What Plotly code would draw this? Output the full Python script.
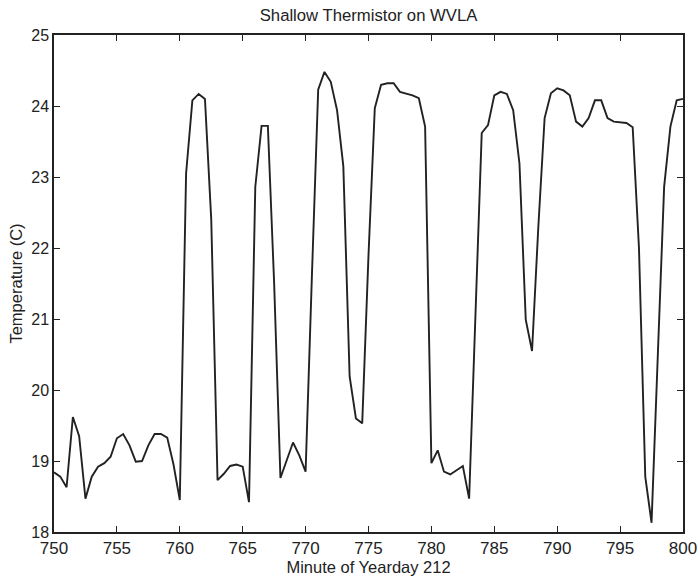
import plotly.graph_objects as go

minutes = [750.0, 750.5, 751.0, 751.5, 752.0, 752.5, 753.0, 753.5, 754.0, 754.5,
           755.0, 755.5, 756.0, 756.5, 757.0, 757.5, 758.0, 758.5, 759.0, 759.5,
           760.0, 760.5, 761.0, 761.5, 762.0, 762.5, 763.0, 763.5, 764.0, 764.5,
           765.0, 765.5, 766.0, 766.5, 767.0, 767.5, 768.0, 768.5, 769.0, 769.5,
           770.0, 770.5, 771.0, 771.5, 772.0, 772.5, 773.0, 773.5, 774.0, 774.5,
           775.0, 775.5, 776.0, 776.5, 777.0, 777.5, 778.0, 778.5, 779.0, 779.5,
           780.0, 780.5, 781.0, 781.5, 782.0, 782.5, 783.0, 783.5, 784.0, 784.5,
           785.0, 785.5, 786.0, 786.5, 787.0, 787.5, 788.0, 788.5, 789.0, 789.5,
           790.0, 790.5, 791.0, 791.5, 792.0, 792.5, 793.0, 793.5, 794.0, 794.5,
           795.0, 795.5, 796.0, 796.5, 797.0, 797.5, 798.0, 798.5, 799.0, 799.5,
           800.0]

temperature = [18.84, 18.78, 18.63, 19.62, 19.35, 18.47, 18.78, 18.92, 18.97, 19.06,
               19.32, 19.38, 19.22, 18.99, 19.00, 19.22, 19.38, 19.38, 19.33, 18.95,
               18.45, 23.05, 24.08, 24.17, 24.10, 22.40, 18.73, 18.82, 18.93, 18.95,
               18.92, 18.42, 22.86, 23.72, 23.72, 21.50, 18.76, 19.01, 19.26, 19.08,
               18.85, 21.60, 24.23, 24.48, 24.34, 23.94, 23.15, 20.19, 19.60, 19.53,
               21.90, 23.97, 24.30, 24.32, 24.32, 24.20, 24.18, 24.15, 24.11, 23.71,
               18.97, 19.15, 18.85, 18.81, 18.87, 18.93, 18.47, 21.10, 23.62, 23.73,
               24.15, 24.20, 24.17, 23.94, 23.19, 20.99, 20.55, 22.30, 23.83, 24.18,
               24.25, 24.22, 24.15, 23.78, 23.71, 23.83, 24.08, 24.08, 23.83, 23.78,
               23.77, 23.76, 23.70, 22.00, 18.78, 18.13, 20.50, 22.86, 23.71, 24.08,
               24.10]

x_ticks = [750, 755, 760, 765, 770, 775, 780, 785, 790, 795, 800]
y_ticks = [18, 19, 20, 21, 22, 23, 24, 25]

FONT = "Liberation Sans, Arial, Helvetica, sans-serif"
INK = "#222222"

fig = go.Figure()
fig.add_trace(go.Scatter(
    x=minutes, y=temperature, mode="lines",
    line=dict(color=INK, width=1.9),
    showlegend=False, hoverinfo="skip",
))

axis_common = dict(
    showline=True, linecolor=INK, linewidth=1.5, mirror="ticks",
    ticks="inside", ticklen=6, tickwidth=1.2, tickcolor=INK,
    showgrid=False, zeroline=False,
)

fig.update_layout(
    width=700, height=578,
    margin=dict(l=54, r=17, t=35, b=46, autoexpand=False),
    paper_bgcolor="white", plot_bgcolor="white",
    title=dict(text="Shallow Thermistor on WVLA", x=0.5265,
               xanchor="center", y=1 - 15 / 578, yanchor="middle",
               font=dict(family=FONT, size=16.7, color=INK)),
    xaxis=dict(range=[750, 800], tickvals=x_ticks, ticktext=[str(v) for v in x_ticks],
               tickfont=dict(family=FONT, size=17, color=INK),
               title=dict(text="Minute of Yearday 212", standoff=1,
                          font=dict(family=FONT, size=16.5, color=INK)),
               automargin=False, **axis_common),
    yaxis=dict(range=[18, 25], tickvals=y_ticks, ticktext=[str(v) for v in y_ticks],
               tickfont=dict(family=FONT, size=16, color=INK),
               title=dict(text="Temperature (C)", standoff=4,
                          font=dict(family=FONT, size=16.5, color=INK)),
               automargin=False, **axis_common),
)

fig.write_html("out.html")
